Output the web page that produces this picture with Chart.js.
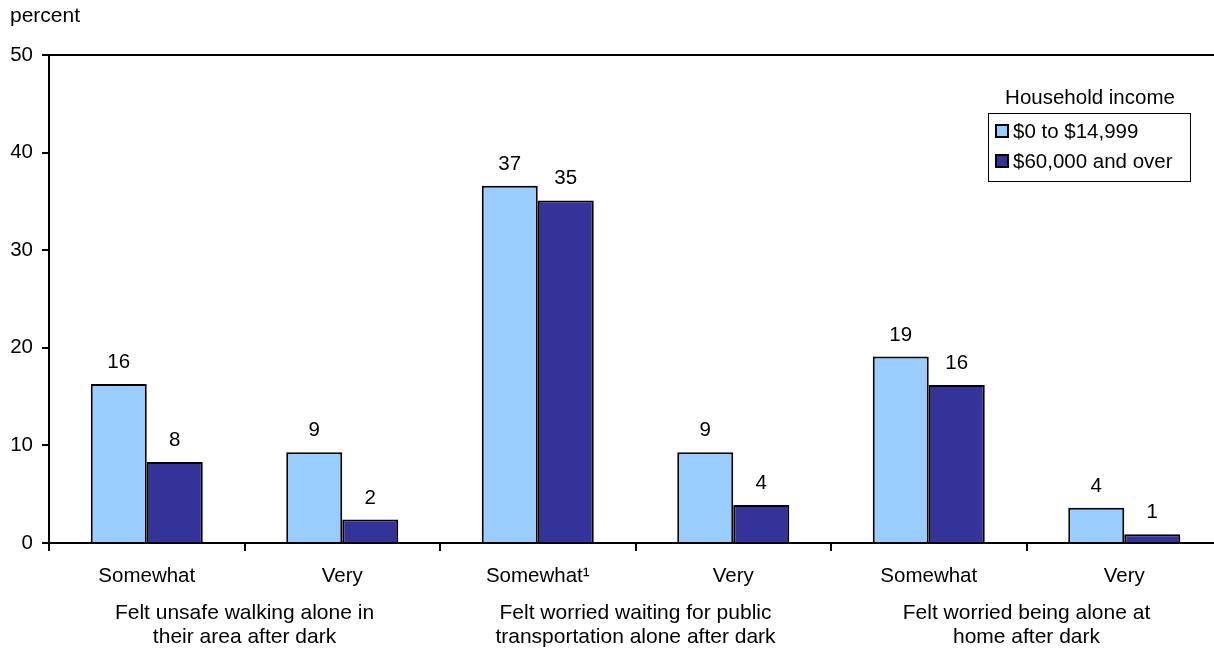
<!DOCTYPE html>
<html>
<head>
<meta charset="utf-8">
<script src="https://cdn.jsdelivr.net/npm/chart.js@4/dist/chart.umd.min.js"></script>
<style>
  body { margin: 0; overflow: hidden; background: #fff; }
  canvas { display: block; }
</style>
</head>
<body>
<canvas id="myChart" width="1224" height="654"></canvas>
<script>
const categories = ['Somewhat', 'Very', 'Somewhat\u00b9', 'Very', 'Somewhat', 'Very'];
const groupLabels = [
  ['Felt unsafe walking alone in', 'their area after dark'],
  ['Felt worried waiting for public', 'transportation alone after dark'],
  ['Felt worried being alone at', 'home after dark']
];
const lowIncome = [16.3, 9.3, 36.6, 9.3, 19.1, 3.6];
const highIncome = [8.3, 2.4, 35.1, 3.9, 16.2, 0.9];
const shownLow = [16, 9, 37, 9, 19, 4];
const shownHigh = [8, 2, 35, 4, 16, 1];
const yTicks = [0, 10, 20, 30, 40, 50];

const FONT = '"Liberation Sans", Arial, sans-serif';

// value labels above bars + group captions + legend box
const extras = {
  id: 'extras',
  afterDatasetsDraw(chart) {
    const ctx = chart.ctx;
    const shown = [shownLow, shownHigh];
    ctx.save();
    ctx.fillStyle = '#000';
    ctx.font = '20.5px ' + FONT;
    ctx.textAlign = 'center';
    ctx.textBaseline = 'alphabetic';
    chart.data.datasets.forEach((ds, i) => {
      chart.getDatasetMeta(i).data.forEach((bar, j) => {
        ctx.fillText(String(shown[i][j]), bar.x, bar.y - 16);
      });
    });

    // group captions under pairs of categories
    const x = chart.scales.x;
    ctx.font = '21px ' + FONT;
    groupLabels.forEach((lines, g) => {
      const cx = (x.getPixelForValue(g * 2) + x.getPixelForValue(g * 2 + 1)) / 2;
      lines.forEach((t, k) => ctx.fillText(t, cx, 619 + k * 24));
    });

    // percent label
    ctx.textAlign = 'left';
    ctx.fillText('percent', 10, 22);

    // legend
    ctx.font = '20.5px ' + FONT;
    ctx.textAlign = 'center';
    ctx.fillText('Household income', 1090, 104);
    ctx.strokeStyle = '#000';
    ctx.lineWidth = 1;
    ctx.strokeRect(988.5, 113.5, 202, 68);
    ctx.textAlign = 'left';
    chart.data.datasets.forEach((ds, i) => {
      const yy = 131 + i * 30;
      ctx.fillStyle = ds.backgroundColor;
      ctx.fillRect(996, yy - 6, 12, 12);
      ctx.lineWidth = 2;
      ctx.strokeRect(996, yy - 6, 12, 12);
      ctx.fillStyle = '#000';
      ctx.fillText(ds.label, 1013, yy + 7);
    });
    ctx.restore();
  }
};

document.addEventListener('DOMContentLoaded', function () {
  new Chart(document.getElementById('myChart').getContext('2d'), {
    type: 'bar',
    data: {
      labels: categories,
      datasets: [
        {
          label: '$0 to $14,999',
          data: lowIncome,
          backgroundColor: '#99CCFF',
          borderColor: '#000',
          borderWidth: 2,
          borderSkipped: 'bottom'
        },
        {
          label: '$60,000 and over',
          data: highIncome,
          backgroundColor: '#333399',
          borderColor: '#000',
          borderWidth: 2,
          borderSkipped: 'bottom'
        }
      ]
    },
    options: {
      responsive: false,
      animation: false,
      layout: { padding: { top: 55, right: 2, left: 0, bottom: 0 } },
      datasets: { bar: { categoryPercentage: 0.573, barPercentage: 1 } },
      plugins: {
        legend: { display: false },
        tooltip: { enabled: false }
      },
      scales: {
        x: {
          grid: {
            offset: true,
            drawOnChartArea: false,
            color: '#000',
            tickColor: '#000',
            tickLength: 8,
            lineWidth: 2
          },
          border: { color: '#000', width: 2 },
          ticks: {
            color: '#000',
            font: { family: FONT, size: 20.5 },
            padding: 13,
            maxRotation: 0
          },
          afterFit(scale) { scale.height = 111; }
        },
        y: {
          min: 0,
          max: 50,
          afterBuildTicks(scale) { scale.ticks = yTicks.map(v => ({ value: v })); },
          grid: {
            color: c => (c.tick && c.tick.value === 50 ? '#000' : 'rgba(0,0,0,0)'),
            tickColor: '#000',
            tickLength: 7,
            lineWidth: 2
          },
          border: { color: '#000', width: 2 },
          ticks: {
            color: '#000',
            font: { family: FONT, size: 20.5 },
            padding: 9
          },
          afterFit(scale) { scale.width = 49; }
        }
      }
    },
    plugins: [extras]
  });
});
</script>
</body>
</html>
